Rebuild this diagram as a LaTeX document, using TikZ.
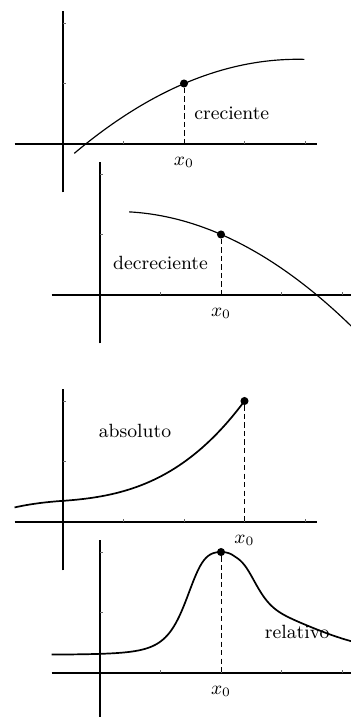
\documentclass[tikz,border=0pt]{standalone}
\usepackage{tikz}
\usetikzlibrary{positioning}

\begin{document}
\begin{tikzpicture}[
  font=\small,
  axis/.style={draw=black, line width=0.7pt},
  tickmark/.style={draw=black!60, line width=0.4pt},
  curve/.style={draw=black, line width=0.55pt},
  boldcurve/.style={draw=black, line width=0.8pt},
  guide/.style={draw=black, line width=0.45pt, dash pattern=on 2.4pt off 1.6pt},
  dot/.style={circle, fill=black, inner sep=0pt, minimum size=3.8pt},
  lbl/.style={inner sep=1pt},
]
\useasboundingbox (-1.041,-9.471) rectangle (4.760,2.380);

% Plot 1: creciente
\begin{scope}
  \draw[axis] (-0.8,0) -- (4.2,0);
  \draw[axis] (0,-0.8) -- (0,2.2);
  \foreach \i in {1,...,4} \draw[tickmark] (\i,0) -- (\i,0.05);
  \foreach \j in {1,2} \draw[tickmark] (0,\j) -- (0.05,\j);
  \draw[curve] plot[domain=0.187:3.99, samples=60] (\x,{1.4-0.114*(\x-3.88)^2});
  \node[dot] (dotA) at (2,1) {};
  \coordinate (footA) at (2,0);
  \draw[guide] (dotA) -- (footA);
  \node[lbl] (xA) at (2,-0.3) {$x_0$};
  \node[lbl] (txtA) at (2.79,0.51) {creciente};
\end{scope}

% Plot 2: decreciente
\begin{scope}[shift={(0.612,-2.496)}]
  \draw[axis] (-0.8,0) -- (4.2,0);
  \draw[axis] (0,-0.8) -- (0,2.2);
  \foreach \i in {1,...,4} \draw[tickmark] (\i,0) -- (\i,0.05);
  \foreach \j in {1,2} \draw[tickmark] (0,\j) -- (0.05,\j);
  \draw[curve] plot[domain=0.48:4.2, samples=60] (\x,{1.38-0.125*(\x-0.26)^2});
  \node[dot] (dotB) at (2,1) {};
  \coordinate (footB) at (2,0);
  \draw[guide] (dotB) -- (footB);
  \node[lbl] (xB) at (2,-0.3) {$x_0$};
  \node[lbl] (txtB) at (1.0,0.53) {decreciente};
\end{scope}

% Plot 3: absoluto
\begin{scope}[shift={(0,-6.248)}]
  \draw[axis] (-0.8,0) -- (4.2,0);
  \draw[axis] (0,-0.8) -- (0,2.2);
  \foreach \i in {1,...,4} \draw[tickmark] (\i,0) -- (\i,0.05);
  \foreach \j in {1,2} \draw[tickmark] (0,\j) -- (0.05,\j);
  \draw[boldcurve] plot[domain=-0.8:3, samples=60]
    (\x,{0.35+0.07*\x+0.055*\x^2+0.035*\x^3});
  \node[dot] (dotC) at (3,2) {};
  \coordinate (footC) at (3,0);
  \draw[guide] (dotC) -- (footC);
  \node[lbl] (xC) at (3,-0.3) {$x_0$};
  \node[lbl] (txtC) at (1.19,1.5) {absoluto};
\end{scope}

% Plot 4: relativo
\begin{scope}[shift={(0.612,-8.744)}]
  \draw[axis] (-0.8,0) -- (4.2,0);
  \draw[axis] (0,-0.8) -- (0,2.2);
  \foreach \i in {1,...,4} \draw[tickmark] (\i,0) -- (\i,0.05);
  \foreach \j in {1,2} \draw[tickmark] (0,\j) -- (0.05,\j);
  \node[lbl] (txtD) at (3.26,0.68) {relativo};
  \draw[boldcurve] plot[domain=-0.8:4.2, samples=150]
    (\x,{0.3+1.7/(1+0.6*(\x-2)^2+6.1*(\x-2)^4)
      +4.29*(max(\x-2.2,0))^2*exp(-max(\x-2.2,0)/0.45)});
  \node[dot] (dotD) at (2,2) {};
  \coordinate (footD) at (2,0);
  \draw[guide] (dotD) -- (footD);
  \node[lbl] (xD) at (2,-0.3) {$x_0$};
\end{scope}
\end{tikzpicture}
\end{document}
